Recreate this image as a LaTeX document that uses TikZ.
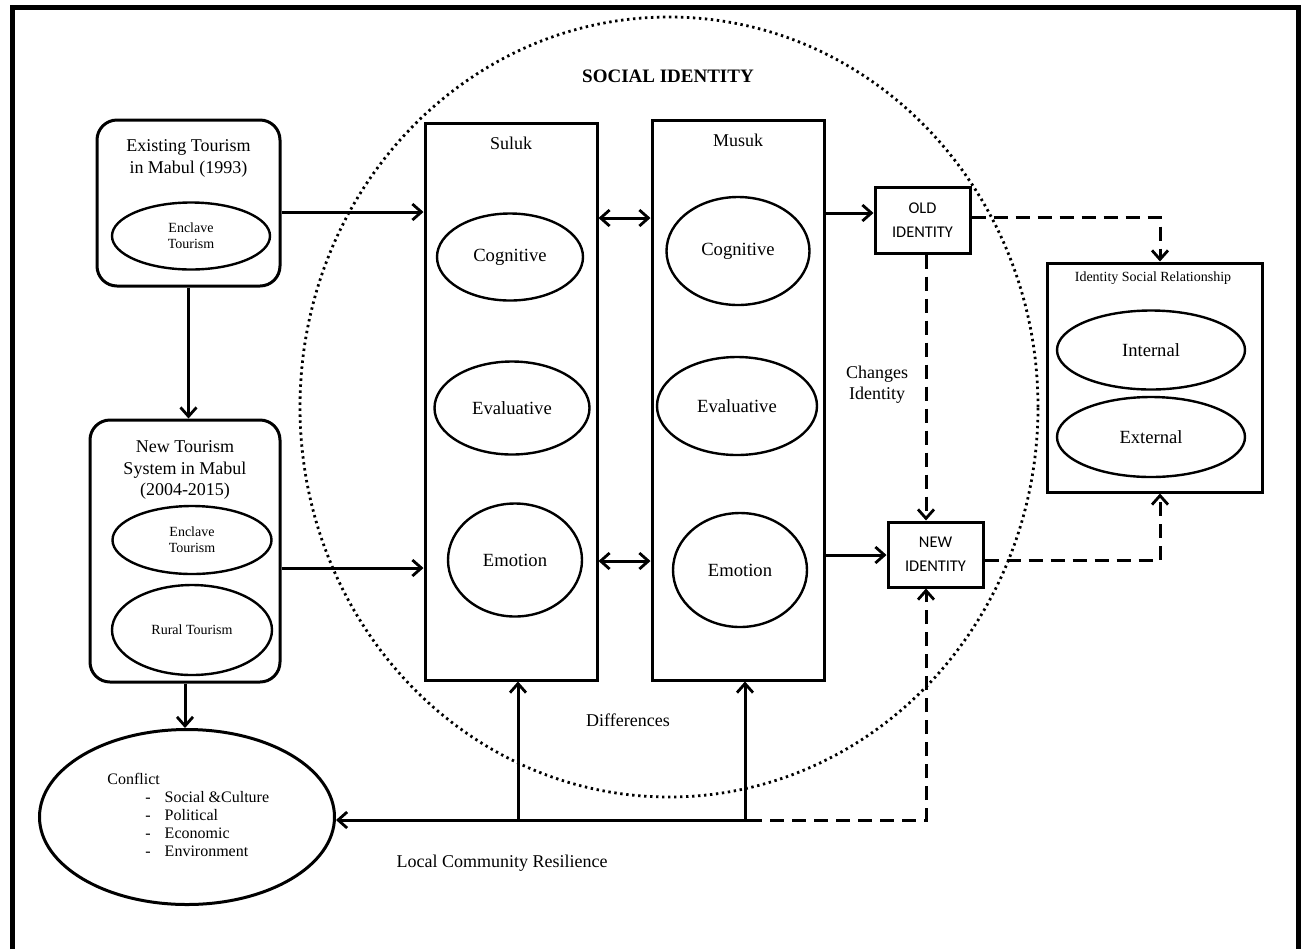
\documentclass[tikz,border=0pt]{standalone}
\usepackage{fontspec}
\setmainfont{Liberation Serif}
\newfontfamily\idfont{Carlito}
\usetikzlibrary{arrows.meta,shapes.geometric}

\begin{document}
\begin{tikzpicture}[x=0.5pt,y=-0.5pt,
  tourbox/.style={draw,line width=1.5pt,rounded corners=10pt,inner sep=0pt},
  column/.style={draw,line width=1.5pt,inner sep=0pt},
  idbox/.style={draw,line width=1.5pt,inner sep=0pt,align=center,
    font=\idfont\fontsize{8.2}{12}\selectfont},
  ell/.style={draw,ellipse,line width=1.2pt,inner sep=0pt,align=center,
    font=\fontsize{9.3}{11}\selectfont},
  tourell/.style={draw,ellipse,line width=1.2pt,inner sep=0pt,align=center,
    font=\fontsize{7}{8}\selectfont},
  headtext/.style={align=center,inner sep=0pt,font=\fontsize{9}{10.6}\selectfont},
  arr/.style={line width=1.5pt,-{Straight Barb[length=4.5pt,width=8pt,line width=1.4pt]}},
  twoway/.style={line width=1.5pt,
    {Straight Barb[length=4.5pt,width=8pt,line width=1.4pt]}-{Straight Barb[length=4.5pt,width=8pt,line width=1.4pt]}},
  dasharr/.style={arr,dash pattern=on 7pt off 4pt}
]
\useasboundingbox (0,0) rectangle (1301,949);

% frame
\draw[line width=2.5pt] (12,949) -- (12,7) -- (1298,7) -- (1298,949);

% social identity ring
\node[draw,ellipse,line width=1.4pt,dash pattern=on 1.2pt off 1.8pt,
  minimum width=369pt,minimum height=390pt] (socialring) at (669,407) {};
\node[font=\bfseries\fontsize{9.5}{11}\selectfont] (socialid) at (668,76) {SOCIAL IDENTITY};

% tourism systems
\node[tourbox,minimum width=91.5pt,minimum height=83pt] (existing) at (188.5,203) {};
\node[headtext] (existtitle) at (188.5,158.5) {Existing Tourism\\in Mabul (1993)};
\node[tourell,minimum width=79pt,minimum height=33.5pt] (enclaveold) at (191,236) {Enclave\\Tourism};

\node[tourbox,minimum width=95pt,minimum height=131pt] (newsys) at (185,551) {};
\node[headtext] (newtitle) at (185,470) {New Tourism\\System in Mabul\\(2004-2015)};
\node[tourell,minimum width=79.5pt,minimum height=34pt] (enclavenew) at (192,540) {Enclave\\Tourism};
\node[tourell,minimum width=80pt,minimum height=45pt] (rural) at (192,630) {Rural Tourism};

% conflict
\node[draw,ellipse,line width=1.5pt,minimum width=147.5pt,minimum height=87.5pt] (conflict) at (187,817) {};
\node[anchor=base west,inner sep=0pt,font=\fontsize{8}{9}\selectfont] (conflictlist) at (107,784) {%
  \begin{tabular}[t]{@{}l@{\hspace{7pt}}l@{}}
  \multicolumn{2}{@{}l@{}}{Conflict}\\
  \hspace{19pt}- & Social \&Culture\\
  \hspace{19pt}- & Political\\
  \hspace{19pt}- & Economic\\
  \hspace{19pt}- & Environment
  \end{tabular}};

% suluk and musuk
\node[column,minimum width=86pt,minimum height=278.5pt] (suluk) at (511,401.5) {};
\node[headtext] (sulukname) at (511,143) {Suluk};
\node[ell,minimum width=73pt,minimum height=43.5pt] (scog) at (510,257) {Cognitive};
\node[ell,minimum width=77.5pt,minimum height=46.5pt] (seva) at (512,408) {Evaluative};
\node[ell,minimum width=67pt,minimum height=56.5pt] (semo) at (515,560) {Emotion};

\node[column,minimum width=86pt,minimum height=280pt] (musuk) at (738,400) {};
\node[headtext] (musukname) at (738,140) {Musuk};
\node[ell,minimum width=71.5pt,minimum height=54pt] (mcog) at (738,251) {Cognitive};
\node[ell,minimum width=80pt,minimum height=49pt] (meva) at (737,406) {Evaluative};
\node[ell,minimum width=67pt,minimum height=57pt] (memo) at (740,570) {Emotion};

% identities
\node[idbox,minimum width=47.5pt,minimum height=33pt] (oldid) at (922.5,220) {OLD\\IDENTITY};
\node[idbox,minimum width=47.5pt,minimum height=32.5pt] (newid) at (935.5,554.5) {NEW\\IDENTITY};
\node[headtext] (changes) at (877,385) {Changes\\Identity};

\node[column,minimum width=107.5pt,minimum height=114.5pt] (isr) at (1154.5,377.5) {};
\node[headtext,font=\fontsize{7}{8}\selectfont] (isrtitle) at (1153,278) {Identity Social Relationship};
\node[ell,minimum width=94pt,minimum height=39.5pt] (internal) at (1151,350) {Internal};
\node[ell,minimum width=94pt,minimum height=40pt] (external) at (1151,437) {External};

\node[headtext] (differences) at (628,720) {Differences};
\node[headtext] (resilience) at (502,863) {Local Community Resilience};

% connectors
\coordinate (resl) at (748,820);
\coordinate (sulukfoot) at (518,820);
\coordinate (musukfoot) at (745,820);
\coordinate (idline) at (926,0);
\coordinate (isrline) at (1160,0);

\draw[arr] (existing.east |- 0,212) -- (suluk.west |- 0,212);
\draw[arr] (newsys.east |- 0,568) -- (suluk.west |- 0,568);
\draw[arr] (existing.south) -- (existing.south |- newsys.north);
\draw[arr] (newsys.south) -- (newsys.south |- conflict.north);
\draw[twoway] (suluk.east |- 0,218) -- (musuk.west |- 0,218);
\draw[twoway] (suluk.east |- 0,561) -- (musuk.west |- 0,561);
\draw[arr] (musuk.east |- 0,213) -- (oldid.west |- 0,213);
\draw[arr] (musuk.east |- 0,555) -- (newid.west |- 0,555);

\draw[dasharr] (idline |- oldid.south) -- (idline |- newid.north);
\draw[dasharr] (oldid.east |- 0,217) -| (isrline |- isr.north);
\draw[dasharr] (newid.east |- 0,560) -| (isrline |- isr.south);

\draw[arr] (resl) -- (conflict.east |- resl);
\draw[arr] (sulukfoot) -- (sulukfoot |- suluk.south);
\draw[arr] (musukfoot) -- (musukfoot |- musuk.south);
\draw[dasharr] (resl) -| (idline |- newid.south);
\end{tikzpicture}
\end{document}
